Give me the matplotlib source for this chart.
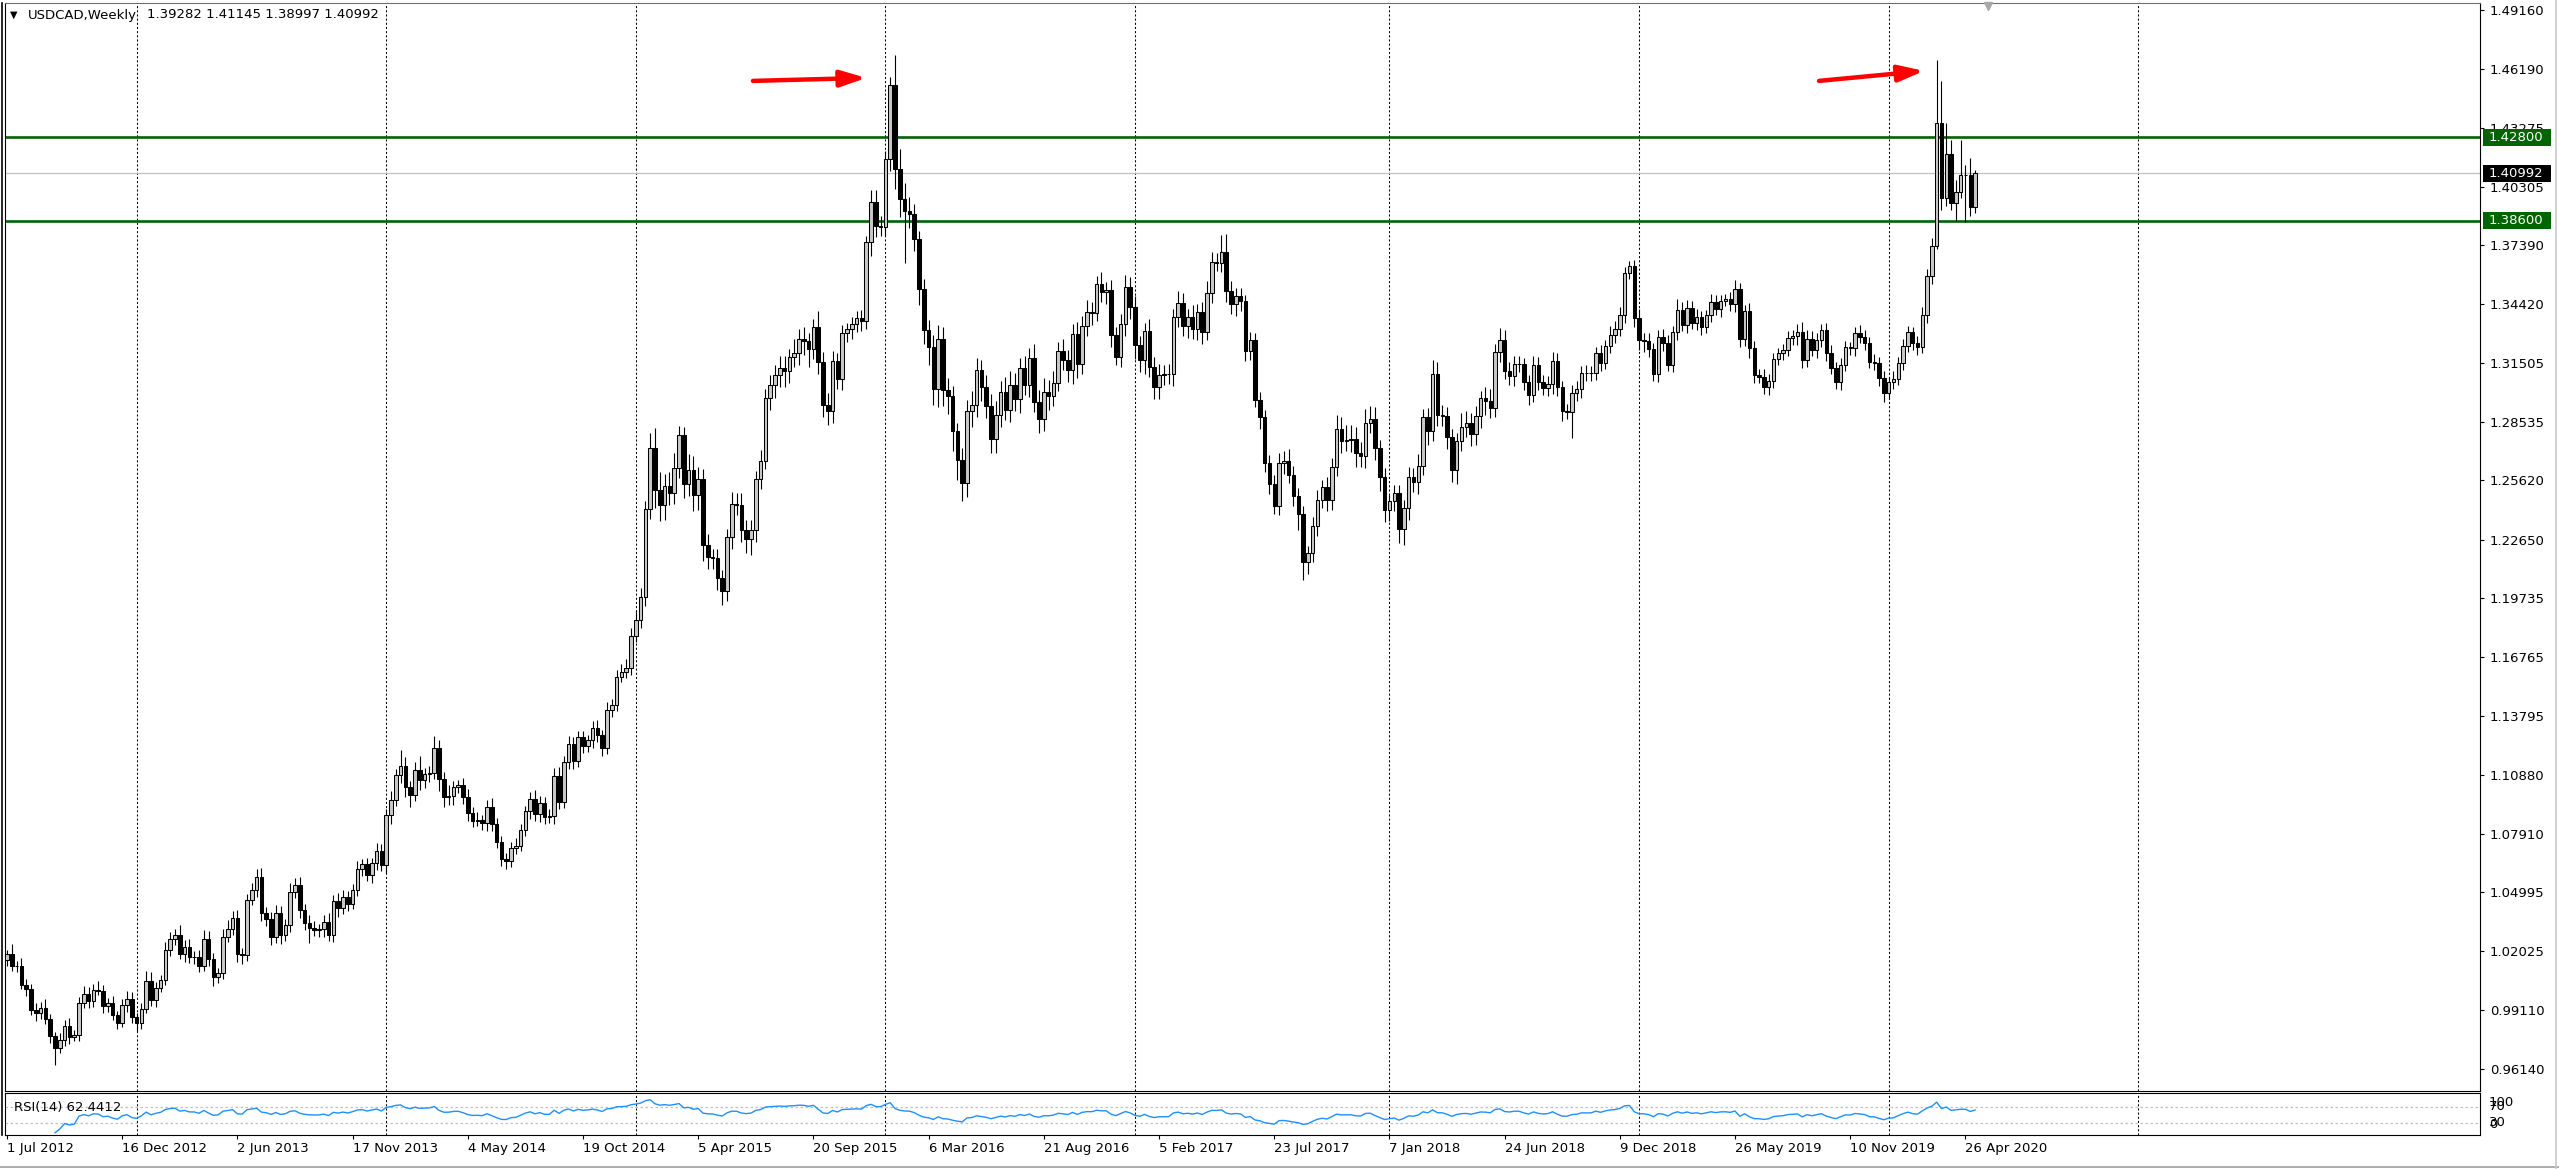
import numpy as np
import pandas as pd
import matplotlib
matplotlib.use("Agg")
import matplotlib.pyplot as plt
from matplotlib.lines import Line2D
from matplotlib.patches import Rectangle

# ---------------- data (weekly USDCAD) ----------------
first_open = 1.0159
closes = [
    1.0192, 1.0129, 1.0131, 1.0034, 1.0017, 0.9908, 0.9895, 0.9922, 0.9862, 0.9778,
    0.9717, 0.9758, 0.9830, 0.9772, 0.9783, 0.9945, 0.9988, 0.9955, 1.0012, 1.0005,
    0.9929, 0.9943, 0.9884, 0.9845, 0.9934, 0.9967, 0.9872, 0.9842, 0.9917, 1.0054,
    0.9959, 1.0019, 1.0062, 1.0209, 1.0263, 1.0284, 1.0189, 1.0226, 1.0175, 1.0176,
    1.0129, 1.0263, 1.0167, 1.0075, 1.0095, 1.0276, 1.0317, 1.0368, 1.0192, 1.0184,
    1.0459, 1.0509, 1.0576, 1.0396, 1.0363, 1.0276, 1.0393, 1.0284, 1.0334, 1.0499,
    1.0534, 1.0409, 1.0346, 1.0318, 1.0309, 1.0313, 1.0351, 1.0284, 1.0454, 1.0418,
    1.0476, 1.0439, 1.0509, 1.0613, 1.0638, 1.0585, 1.0643, 1.0706, 1.0635, 1.0888,
    1.0960, 1.1085, 1.1130, 1.1027, 1.0985, 1.1110, 1.1060, 1.1089, 1.1097, 1.1219,
    1.1064, 1.0977, 1.0980, 1.1027, 1.1035, 1.0977, 1.0897, 1.0857, 1.0863, 1.0847,
    1.0927, 1.0843, 1.0752, 1.0663, 1.0655, 1.0722, 1.0732, 1.0812, 1.0905, 1.0966,
    1.0891, 1.0944, 1.0878, 1.0880, 1.1082, 1.0950, 1.1151, 1.1242, 1.1157, 1.1276,
    1.1231, 1.1263, 1.1321, 1.1284, 1.1223, 1.1409, 1.1435, 1.1576, 1.1603, 1.1621,
    1.1780, 1.1860, 1.1979, 1.2417, 1.2722, 1.2515, 1.2436, 1.2531, 1.2497, 1.2622,
    1.2789, 1.2542, 1.2611, 1.2489, 1.2569, 1.2239, 1.2178, 1.2170, 1.2072, 1.2006,
    1.2277, 1.2444, 1.2436, 1.2311, 1.2266, 1.2311, 1.2569, 1.2656, 1.2975, 1.3041,
    1.3089, 1.3126, 1.3107, 1.3179, 1.3200, 1.3267, 1.3259, 1.3221, 1.3328, 1.3152,
    1.2940, 1.2908, 1.3160, 1.3067, 1.3301, 1.3320, 1.3346, 1.3373, 1.3360, 1.3752,
    1.3957, 1.3837, 1.3832, 1.4169, 1.4540, 1.4121, 1.3970, 1.3911, 1.3896, 1.3771,
    1.3519, 1.3312, 1.3227, 1.3020, 1.3267, 1.3014, 1.2983, 1.2807, 1.2664, 1.2550,
    1.2908, 1.2940, 1.3115, 1.3028, 1.2935, 1.2770, 1.2887, 1.3001, 1.2914, 1.3041,
    1.2967, 1.3126, 1.3038, 1.3176, 1.2954, 1.2866, 1.3004, 1.2984, 1.3049, 1.3210,
    1.3163, 1.3113, 1.3293, 1.3143, 1.3333, 1.3405, 1.3400, 1.3542, 1.3505, 1.3513,
    1.3288, 1.3180, 1.3343, 1.3530, 1.3427, 1.3238, 1.3163, 1.3310, 1.3130, 1.3029,
    1.3088, 1.3092, 1.3096, 1.3377, 1.3450, 1.3333, 1.3377, 1.3317, 1.3405, 1.3305,
    1.3497, 1.3655, 1.3650, 1.3705, 1.3510, 1.3443, 1.3483, 1.3460, 1.3210, 1.3266,
    1.2963, 1.2876, 1.2649, 1.2542, 1.2432, 1.2649, 1.2659, 1.2587, 1.2482, 1.2392,
    1.2153, 1.2195, 1.2332, 1.2465, 1.2529, 1.2465, 1.2629, 1.2816, 1.2759, 1.2762,
    1.2766, 1.2696, 1.2682, 1.2849, 1.2866, 1.2721, 1.2579, 1.2412, 1.2459, 1.2499,
    1.2320, 1.2425, 1.2579, 1.2554, 1.2632, 1.2876, 1.2809, 1.3093, 1.2888, 1.2885,
    1.2776, 1.2612, 1.2759, 1.2826, 1.2849, 1.2792, 1.2883, 1.2971, 1.2959, 1.2921,
    1.3205, 1.3263, 1.3110, 1.3083, 1.3146, 1.3143, 1.3055, 1.2988, 1.3139, 1.3055,
    1.3022, 1.3043, 1.3160, 1.3030, 1.2910, 1.2905, 1.2997, 1.3017, 1.3100, 1.3097,
    1.3100, 1.3197, 1.3150, 1.3234, 1.3289, 1.3317, 1.3389, 1.3601, 1.3634, 1.3372,
    1.3264, 1.3260, 1.3217, 1.3093, 1.3277, 1.3247, 1.3139, 1.3306, 1.3414, 1.3339,
    1.3422, 1.3347, 1.3381, 1.3327, 1.3389, 1.3456, 1.3417, 1.3461, 1.3467, 1.3444,
    1.3517, 1.3267, 1.3411, 1.3222, 1.3088, 1.3080, 1.3030, 1.3060, 1.3167, 1.3197,
    1.3214, 1.3272, 1.3284, 1.3306, 1.3164, 1.3267, 1.3214, 1.3264, 1.3314, 1.3197,
    1.3122, 1.3055, 1.3139, 1.3230, 1.3222, 1.3297, 1.3277, 1.3250, 1.3155, 1.3147,
    1.3072, 1.3000, 1.3055, 1.3067, 1.3150, 1.3234, 1.3306, 1.3250, 1.3227, 1.3389,
    1.3584, 1.3735, 1.4352, 1.3973, 1.4195, 1.3948, 1.4006, 1.4090, 1.4090, 1.39282,
    1.40992,
]
# wick lengths beyond the candle body, in pips
upper_wick_pips = [
    20, 50, 25, 40, 30, 25, 35, 30, 45, 25,
    20, 35, 30, 40, 25, 30, 40, 35, 30, 45,
    30, 25, 35, 20, 30, 40, 35, 25, 30, 50,
    45, 30, 25, 40, 35, 30, 50, 35, 40, 30,
    35, 45, 40, 30, 25, 40, 45, 35, 40, 30,
    30, 35, 40, 45, 30, 35, 40, 35, 30, 45,
    35, 40, 30, 40, 35, 25, 35, 45, 30, 40,
    35, 30, 30, 40, 25, 35, 30, 40, 35, 30,
    45, 30, 80, 45, 30, 40, 70, 30, 35, 60,
    40, 35, 55, 30, 25, 35, 40, 30, 40, 25,
    35, 45, 30, 30, 35, 30, 40, 30, 25, 35,
    45, 35, 30, 35, 40, 45, 30, 40, 35, 30,
    30, 25, 35, 40, 25, 45, 30, 35, 40, 45,
    40, 50, 45, 40, 75, 100, 90, 60, 70, 75,
    45, 40, 80, 70, 60, 50, 55, 40, 45, 40,
    40, 60, 55, 60, 50, 50, 40, 55, 45, 50,
    50, 60, 60, 40, 70, 50, 60, 40, 40, 80,
    50, 60, 50, 40, 40, 30, 35, 35, 40, 35,
    60, 60, 50, 40, 40, 150, 100, 80, 70, 50,
    40, 50, 50, 60, 70, 60, 60, 50, 40, 60,
    55, 70, 60, 50, 60, 60, 70, 60, 80, 70,
    60, 50, 60, 50, 70, 60, 70, 60, 60, 45,
    60, 50, 50, 60, 50, 60, 50, 40, 60, 40,
    50, 40, 50, 60, 50, 55, 45, 40, 60, 50,
    55, 45, 50, 40, 60, 50, 40, 60, 40, 50,
    60, 50, 45, 85, 90, 50, 40, 40, 30, 40,
    35, 40, 35, 40, 45, 50, 50, 60, 45, 40,
    40, 40, 45, 50, 35, 50, 45, 70, 60, 75,
    70, 60, 55, 70, 65, 60, 40, 45, 30, 40,
    40, 40, 50, 45, 60, 40, 45, 70, 60, 50,
    45, 40, 40, 70, 60, 50, 50, 40, 60, 60,
    40, 60, 50, 45, 40, 40, 30, 35, 45, 40,
    35, 40, 45, 40, 30, 35, 40, 40, 35, 40,
    35, 30, 40, 30, 45, 40, 40, 30, 25, 30,
    45, 35, 40, 30, 35, 40, 40, 30, 55, 40,
    40, 35, 40, 30, 25, 40, 35, 30, 25, 35,
    45, 30, 30, 40, 35, 30, 40, 35, 30, 25,
    30, 35, 30, 40, 50, 45, 40, 35, 30, 35,
    40, 30, 35, 30, 25, 30, 40, 35, 30, 40,
    30, 35, 25, 40, 30, 35, 30, 25, 35, 40,
    35, 40, 315, 210, 154, 70, 60, 175, 50, 83,
    15.3,
]
lower_wick_pips = [
    30, 25, 30, 20, 35, 25, 40, 30, 25, 35,
    85, 25, 30, 35, 20, 30, 25, 35, 30, 20,
    35, 30, 25, 30, 20, 35, 30, 40, 30, 25,
    30, 35, 20, 25, 30, 30, 25, 40, 30, 35,
    30, 25, 35, 45, 30, 30, 25, 30, 40, 45,
    30, 25, 35, 40, 35, 40, 30, 45, 30, 35,
    30, 40, 35, 75, 30, 35, 40, 30, 35, 45,
    30, 35, 25, 30, 35, 30, 40, 35, 30, 40,
    45, 30, 40, 50, 60, 30, 50, 40, 40, 30,
    60, 50, 40, 45, 30, 35, 40, 30, 25, 35,
    40, 35, 30, 35, 40, 30, 30, 25, 30, 40,
    35, 40, 35, 30, 40, 35, 30, 35, 40, 30,
    35, 30, 40, 35, 40, 30, 35, 30, 25, 30,
    35, 30, 40, 45, 50, 90, 80, 75, 60, 55,
    50, 70, 60, 80, 75, 80, 60, 55, 60, 70,
    50, 60, 50, 60, 70, 80, 60, 50, 40, 60,
    70, 60, 80, 60, 50, 60, 70, 90, 50, 60,
    60, 70, 60, 50, 55, 45, 50, 40, 50, 40,
    70, 60, 50, 50, 60, 100, 90, 260, 70, 60,
    80, 70, 90, 80, 90, 80, 90, 100, 100, 90,
    70, 80, 60, 70, 60, 70, 70, 60, 50, 60,
    60, 70, 50, 60, 50, 70, 60, 70, 50, 40,
    50, 60, 70, 70, 50, 50, 60, 40, 50, 60,
    60, 40, 50, 60, 60, 70, 60, 70, 50, 60,
    60, 50, 50, 60, 50, 50, 60, 50, 55, 60,
    40, 50, 40, 45, 55, 50, 60, 50, 50, 45,
    35, 60, 45, 50, 40, 45, 55, 40, 50, 80,
    90, 60, 45, 50, 40, 55, 50, 45, 60, 50,
    60, 70, 55, 60, 50, 60, 70, 60, 55, 50,
    70, 80, 60, 50, 60, 45, 70, 50, 55, 50,
    60, 60, 70, 50, 50, 60, 55, 60, 70, 50,
    45, 50, 40, 45, 50, 40, 40, 50, 35, 40,
    35, 40, 50, 45, 50, 35, 130, 40, 45, 40,
    40, 35, 40, 30, 35, 40, 35, 40, 30, 45,
    50, 55, 40, 35, 40, 40, 30, 35, 40, 30,
    40, 30, 35, 40, 30, 35, 30, 40, 25, 35,
    40, 40, 35, 50, 40, 30, 35, 40, 35, 30,
    35, 30, 35, 45, 40, 35, 30, 40, 35, 40,
    30, 35, 40, 30, 35, 40, 30, 35, 30, 35,
    40, 45, 30, 35, 30, 35, 30, 35, 40, 30,
    40, 40, 15, 60, 40, 35, 90, 30, 235, 43,
    28.5,
]
price_ticks = [1.49160, 1.46190, 1.43275, 1.40305, 1.37390, 1.34420, 1.31505,
               1.28535, 1.25620, 1.22650, 1.19735, 1.16765, 1.13795, 1.10880,
               1.07910, 1.04995, 1.02025, 0.99110, 0.96140]
date_labels = ["1 Jul 2012", "16 Dec 2012", "2 Jun 2013", "17 Nov 2013", "4 May 2014",
               "19 Oct 2014", "5 Apr 2015", "20 Sep 2015", "6 Mar 2016", "21 Aug 2016",
               "5 Feb 2017", "23 Jul 2017", "7 Jan 2018", "24 Jun 2018", "9 Dec 2018",
               "26 May 2019", "10 Nov 2019", "26 Apr 2020"]
date_tick_bars = list(range(0, 409, 24))
year_start_bars = [27, 79, 131, 183, 235, 288, 340, 392, 444]
resistance = 1.42800
support = 1.38600
last_bid = 1.40992
header_ohlc = "1.39282 1.41145 1.38997 1.40992"
rsi_text = "RSI(14) 62.4412"
# arrow annotations (bar index, price)
arrow1 = ((155.4, 1.4561), (179.0, 1.4576))
arrow2 = ((377.5, 1.4561), (399.4, 1.4611))

# ---------------- figure ----------------
W, H, DPI = 2559, 1169, 100
plt.rcParams['font.family'] = ['DejaVu Sans']
fig = plt.figure(figsize=(W / DPI, H / DPI), dpi=DPI)
fig.patch.set_facecolor('white')

def fxp(px):
    return px / W

def fyp(py):
    return 1 - py / H

L, R = 5, 2480
ax = fig.add_axes([fxp(L), fyp(1091), (R - L) / W, (1091 - 3) / H])
rax = fig.add_axes([fxp(L), fyp(1135), (R - L) / W, (1135 - 1093) / H])

n = len(closes)
x = np.arange(n)
c = np.array(closes)
o = np.concatenate([[first_open], c[:-1]])
top = np.maximum(o, c)
bot = np.minimum(o, c)
hi = top + np.array(upper_wick_pips) / 1e4
lo = bot - np.array(lower_wick_pips) / 1e4
bull = c >= o

XL = (-0.42, 515.2)
ax.set_xlim(*XL)
ax.set_ylim(0.9504, 1.4951)

# vertical dotted grid (year starts)
for b in year_start_bars:
    ax.axvline(b, color='black', lw=0.75, ls=(0, (2, 2)), zorder=1)
    rax.axvline(b, color='black', lw=0.75, ls=(0, (2, 2)), zorder=1)

ax.axhline(last_bid, color='#C0C0C0', lw=0.9, zorder=1.5)
ax.axhline(resistance, color='#006400', lw=1.9, zorder=2)
ax.axhline(support, color='#006400', lw=1.9, zorder=2)

ax.vlines(x, lo, hi, color='black', lw=0.8, zorder=3)
h = np.maximum(top - bot, 0.00005)
ax.bar(x[bull], h[bull], bottom=bot[bull], width=0.72, facecolor='#C8C8C8',
       edgecolor='black', lw=0.75, zorder=4)
ax.bar(x[~bull], h[~bull], bottom=bot[~bull], width=0.72, facecolor='black',
       edgecolor='black', lw=0.75, zorder=4)

# arrows
for tail, tip in (arrow1, arrow2):
    ax.annotate('', xy=tip, xytext=tail,
                arrowprops=dict(arrowstyle='-|>,head_length=1.4,head_width=0.45',
                                color='#FF0000', lw=3.2, mutation_scale=11,
                                shrinkA=0, shrinkB=0), zorder=6)

# price axis
ax.yaxis.tick_right()
ax.set_yticks(price_ticks)
ax.set_yticklabels([f"{v:.5f}" for v in price_ticks])
ax.tick_params(axis='y', length=3, width=0.8, pad=4, labelsize=9.5, colors='black')
ax.set_xticks([])
for s in ax.spines.values():
    s.set_color('black')
    s.set_linewidth(0.8)
ax.spines['top'].set_color('#707070')

# shift marker
ax.plot([(1988 - L) / (R - L)], [0.997], marker='v', color='#A8A8A8', ms=6,
        transform=ax.transAxes, clip_on=False, zorder=7)

# ---------------- RSI ----------------
s = pd.Series(closes)
d = s.diff()
gain = d.clip(lower=0)
loss = -d.clip(upper=0)
ag = gain.ewm(alpha=1 / 14, adjust=True, min_periods=10).mean()
al = loss.ewm(alpha=1 / 14, adjust=True, min_periods=10).mean()
rsi = 100 - 100 / (1 + ag / al)
rax.set_xlim(*XL)
rax.set_ylim(0, 105)
rax.axhline(70, color='#C0C0C0', lw=0.9, ls=(0, (2, 2)), zorder=1)
rax.axhline(30, color='#C0C0C0', lw=0.9, ls=(0, (2, 2)), zorder=1)
rax.plot(x, rsi.values, color='#1E90FF', lw=1.0, zorder=3)
rax.set_yticks([])
rax.set_xticks(date_tick_bars)
rax.set_xticklabels(date_labels, ha='left')
rax.tick_params(axis='x', length=3, width=0.8, pad=2, labelsize=9.5, colors='black')
for s_ in rax.spines.values():
    s_.set_color('black')
    s_.set_linewidth(0.8)
rax.text(11 / (R - L) - 0.001, (1135 - 1108) / 42, rsi_text, transform=rax.transAxes,
         fontsize=9.5, va='center', ha='left', zorder=5)

# RSI level labels (overlapping as in the terminal)
for lab, py in (("100", 1103), ("70", 1107), ("30", 1122), ("0", 1125)):
    fig.text(fxp(2489), fyp(py), lab, fontsize=9.5, va='center', ha='left')

# ---------------- header ----------------
fig.text(fxp(10), fyp(15), "\u25BC", fontsize=7, va='center', ha='left')
fig.text(fxp(28), fyp(15), "USDCAD,Weekly", fontsize=9.5, va='center', ha='left')
fig.text(fxp(147), fyp(15), header_ohlc, fontsize=9.5, va='center', ha='left')

# ---------------- right-side price boxes ----------------
def price_box(val, yc, face):
    fig.patches.append(Rectangle((fxp(2483), fyp(yc + 8.5)), 68 / W, 17 / H,
                                 transform=fig.transFigure, facecolor=face,
                                 edgecolor='none', zorder=10))
    fig.text(fxp(2489), fyp(yc), f"{val:.5f}", color='white', fontsize=9.5,
             va='center', ha='left', zorder=11)

def py_of(p):
    return 10 + (1.4916 - p) * 1997.4

price_box(resistance, py_of(resistance), '#006400')
price_box(last_bid, py_of(last_bid), 'black')
price_box(support, py_of(support), '#006400')

# outer window frame
fig.add_artist(Line2D([0, 1], [fyp(1167), fyp(1167)], color='#A0A0A0', lw=1.2))
fig.add_artist(Line2D([fxp(2556), fxp(2556)], [0, 1], color='#C8C8C8', lw=1.2))
fig.add_artist(Line2D([fxp(1.5), fxp(1.5)], [fyp(1135), fyp(3)], color='black', lw=1.2))

fig.savefig('out.png', dpi=DPI, facecolor='white')
